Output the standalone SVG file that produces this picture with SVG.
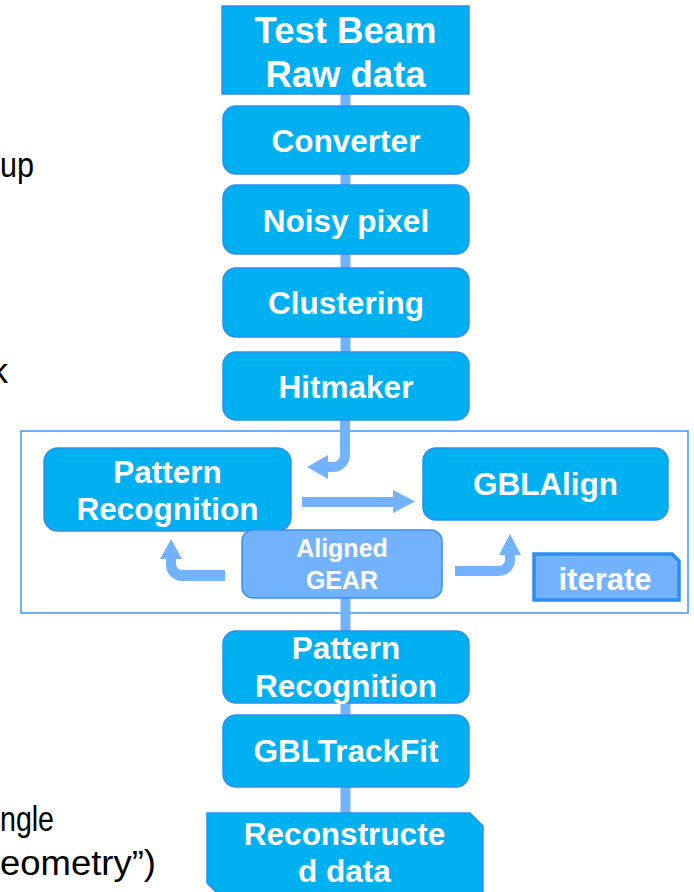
<svg xmlns="http://www.w3.org/2000/svg" width="694" height="892" viewBox="0 0 694 892">
<style>
.box{fill:#00B0F0;stroke:#2B8EF0;stroke-width:1.5}
.lt{fill:#72B2FF;stroke:#3A8FF2;stroke-width:1.5}
.t{font-family:"Liberation Sans",Arial,sans-serif;font-weight:bold;fill:#FFFFFF;text-anchor:middle}
.side{font-family:"Liberation Sans",Arial,sans-serif;fill:#000000;font-size:35px}
.con{stroke:#72B2FF;stroke-width:10;fill:none}
.arr{fill:#72B2FF;stroke:none}
</style>
<rect width="694" height="892" fill="#FFFFFF"/>
<g id="side-text">
<text class="side" x="0" y="177" textLength="34" lengthAdjust="spacingAndGlyphs">up</text>
<text class="side" x="8" y="383" text-anchor="end" font-size="30">k</text>
<text class="side" x="0" y="831" textLength="54" lengthAdjust="spacingAndGlyphs">ngle</text>
<text class="side" x="0" y="875" textLength="156" lengthAdjust="spacingAndGlyphs">eometry”)</text>
</g>
<g id="frame">
<rect x="21" y="431" width="667" height="182" fill="none" stroke="#3D97F4" stroke-width="1.5"/>
</g>
<g id="connectors">
<line class="con" x1="345.5" y1="94" x2="345.5" y2="106"/>
<line class="con" x1="345.5" y1="174" x2="345.5" y2="185"/>
<line class="con" x1="345.5" y1="254" x2="345.5" y2="268"/>
<line class="con" x1="345.5" y1="337" x2="345.5" y2="352"/>
<line class="con" x1="345.5" y1="598" x2="345.5" y2="631"/>
<line class="con" x1="345.5" y1="703" x2="345.5" y2="715"/>
<line class="con" x1="345.5" y1="787" x2="345.5" y2="813"/>
<path class="arr" d="M340 420 L350 420 L350 455 A17 17 0 0 1 333 472 L328 472 L328 479 L307 467 L328 455 L328 462 L333 462 A7 7 0 0 0 340 455 Z"/>
<path class="arr" d="M302 497 L393 497 L393 490 L415 501.5 L393 513 L393 507 L302 507 Z"/>
<path class="arr" d="M225 570 L182 570 A6 6 0 0 1 176 564 L176 559 L182 559 L171 539 L160 559 L166 559 L166 565 A16 16 0 0 0 182 581 L225 581 Z"/>
<path class="arr" d="M455 566 L499 566 A6 6 0 0 0 505 560 L505 555 L499 555 L510 534 L521 555 L515 555 L515 560 A16 16 0 0 1 499 576 L455 576 Z"/>
</g>
<g id="test-beam">
<rect class="box" x="222" y="6" width="247" height="88"/>
<text class="t" x="345.5" y="43" font-size="36.5">Test Beam</text>
<text class="t" x="345.5" y="87" font-size="36.5">Raw data</text>
</g>
<g id="converter">
<rect class="box" x="223" y="106" width="246" height="68" rx="13"/>
<text class="t" x="346" y="152" font-size="31.5">Converter</text>
</g>
<g id="noisy-pixel">
<rect class="box" x="223" y="185" width="246" height="69" rx="13"/>
<text class="t" x="346" y="232" font-size="31.5">Noisy pixel</text>
</g>
<g id="clustering">
<rect class="box" x="223" y="268" width="246" height="69" rx="13"/>
<text class="t" x="346" y="314" font-size="31.5">Clustering</text>
</g>
<g id="hitmaker">
<rect class="box" x="223" y="352" width="246" height="68" rx="13"/>
<text class="t" x="346" y="398" font-size="31.5">Hitmaker</text>
</g>
<g id="pattern-recognition-1">
<rect class="box" x="44" y="448" width="247" height="83" rx="14"/>
<text class="t" x="167.5" y="483" font-size="31.5">Pattern</text>
<text class="t" x="167.5" y="520" font-size="31.5">Recognition</text>
</g>
<g id="gblalign">
<rect class="box" x="423" y="448" width="245" height="72" rx="13"/>
<text class="t" x="545.5" y="495" font-size="31.5">GBLAlign</text>
</g>
<g id="aligned-gear">
<rect class="lt" x="242" y="530" width="200" height="68" rx="11"/>
<text class="t" x="342" y="557" font-size="25">Aligned</text>
<text class="t" x="342" y="589" font-size="25">GEAR</text>
</g>
<g id="iterate">
<path d="M534 554 L672 554 L679 561 L679 600 L534 600 Z" fill="#72B2FF" stroke="#2E8CF5" stroke-width="3.5"/>
<text class="t" x="605" y="590" font-size="31">iterate</text>
</g>
<g id="pattern-recognition-2">
<rect class="box" x="223" y="631" width="246" height="72" rx="13"/>
<text class="t" x="346" y="659" font-size="31.5">Pattern</text>
<text class="t" x="346" y="697" font-size="31.5">Recognition</text>
</g>
<g id="gbltrackfit">
<rect class="box" x="223" y="715" width="246" height="72" rx="13"/>
<text class="t" x="346" y="762" font-size="31.5">GBLTrackFit</text>
</g>
<g id="reconstructed-data">
<path class="box" d="M207 813 L470 813 L483 826 L483 897 L221 897 L207 883 Z"/>
<text class="t" x="344.5" y="845" font-size="31.5">Reconstructe</text>
<text class="t" x="344.5" y="882" font-size="31.5">d data</text>
</g>
</svg>
